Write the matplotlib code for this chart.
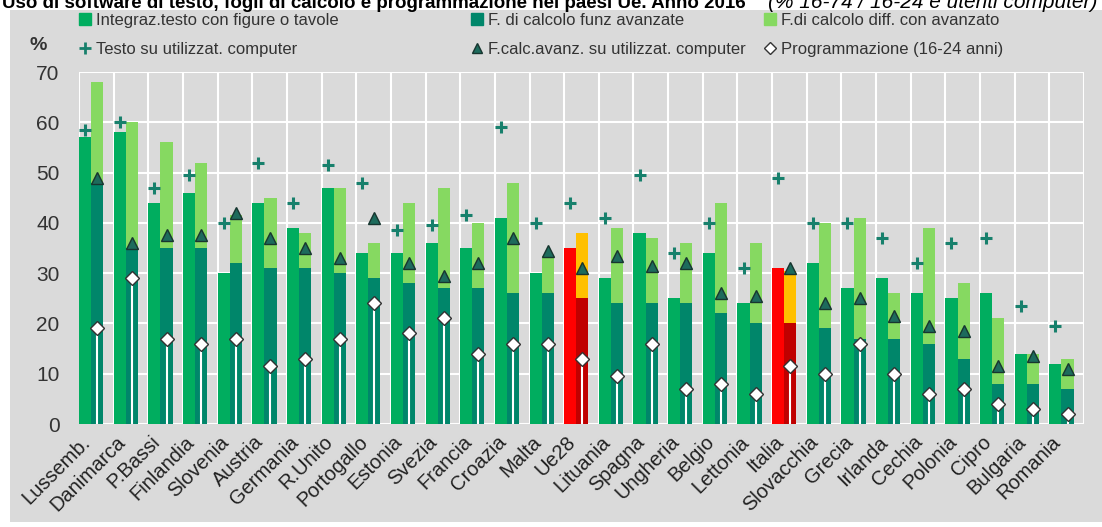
# Uso di software di testo, fogli di calcolo e programmazione nei paesi Ue - 2016
import numpy as np
import matplotlib
matplotlib.use('Agg')
import matplotlib.pyplot as plt
from matplotlib.patches import Rectangle
from matplotlib.lines import Line2D

plt.rcParams['font.family'] = ['Liberation Sans Narrow', 'Liberation Sans', 'DejaVu Sans']

# Data
countries = ['Lussemb.', 'Danimarca', 'P.Bassi', 'Finlandia', 'Slovenia', 'Austria', 'Germania',
             'R.Unito', 'Portogallo', 'Estonia', 'Svezia', 'Francia', 'Croazia', 'Malta', 'Ue28',
             'Lituania', 'Spagna', 'Ungheria', 'Belgio', 'Lettonia', 'Italia', 'Slovacchia',
             'Grecia', 'Irlanda', 'Cechia', 'Polonia', 'Cipro', 'Bulgaria', 'Romania']
integraz = [57, 58, 44, 46, 30, 44, 39, 47, 34, 34, 36, 35, 41, 30, 35, 29, 38, 25, 34, 24,
            31, 32, 27, 29, 26, 25, 26, 14, 12]
funz_avanz = [48, 35, 35, 35, 32, 31, 31, 30, 29, 28, 27, 27, 26, 26, 25, 24, 24, 24, 22, 20,
              20, 19, 17, 17, 16, 13, 8, 8, 7]
calcolo_tot = [68, 60, 56, 52, 41.5, 45, 38, 47, 36, 44, 47, 40, 48, 33.5, 38, 39, 37, 36, 44, 36,
               30.5, 40, 41, 26, 39, 28, 21, 14, 13]
testo_pc = [58.5, 60, 47, 49.5, 40, 52, 44, 51.5, 48, 38.5, 39.5, 41.5, 59, 40, 44, 41, 49.5, 34,
            40, 31, 49, 40, 40, 37, 32, 36, 37, 23.5, 19.5]
calc_pc = [49, 36, 37.5, 37.5, 42, 37, 35, 33, 41, 32, 29.5, 32, 37, 34.5, 31, 33.5, 31.5, 32, 26,
           25.5, 31, 24, 25, 21.5, 19.5, 18.5, 11.5, 13.5, 11]
programm = [19, 29, 17, 16, 17, 11.5, 13, 17, 24, 18, 21, 14, 16, 16, 13, 9.5, 16, 7, 8, 6, 11.5,
            10, 16, 10, 6, 7, 4, 3, 2]
highlight = ['Ue28', 'Italia']

# colours
bg = '#dadada'
c_left, c_dark, c_light = '#00ad5f', '#00866a', '#86d961'
c_red, c_dred, c_yel = '#ff0000', '#c00000', '#ffc000'
c_plus, c_tri = '#17806c', '#1d6b5c'

n = len(countries)
x = np.arange(n)
w = 0.35
diff = np.array(calcolo_tot) - np.array(funz_avanz)

col_left = [c_red if c in highlight else c_left for c in countries]
col_dark = [c_dred if c in highlight else c_dark for c in countries]
col_light = [c_yel if c in highlight else c_light for c in countries]

fig = plt.figure(figsize=(11.02, 5.27), dpi=100)
fig.patches.append(Rectangle((10/1102, 5/527), 1 - 10/1102, 1 - 15/527,
                             transform=fig.transFigure, facecolor=bg, edgecolor='none', zorder=-5))
ax = fig.add_axes([79/1102, 1 - 424/527, (1084 - 79)/1102, (424 - 72)/527])
ax.set_facecolor(bg)

b1 = ax.bar(x, integraz, w, align='edge', color=col_left, zorder=2)
b2 = ax.bar(x + w, funz_avanz, w, align='edge', color=col_dark, zorder=2)
b3 = ax.bar(x + w, diff, w, bottom=funz_avanz, align='edge', color=col_light, zorder=2)
ax.vlines(x + 1.5*w, 0, programm, color='white', lw=1.5, zorder=3)
ax.plot(x + w/2, testo_pc, '+', color=c_plus, ms=9, mew=2.2, zorder=4, ls='none')
ax.plot(x + 1.5*w, calc_pc, '^', color=c_tri, mec='#17352f', mew=1, ms=9, zorder=4, ls='none')
ax.plot(x + 1.5*w, programm, 'D', color='white', mec='#333333', mew=1, ms=7.5, zorder=5, ls='none')

ax.set_yticks(range(0, 71, 10))
ax.set_xticks(x + 0.05)
ax.set_xticklabels(countries, rotation=45, ha='right', rotation_mode='anchor', fontsize=14.5, color='#222222')
ax.set_xticks(np.arange(n + 1), minor=True)
ax.set_xlim(0, n)
ax.set_ylim(0, 70)
ax.tick_params(axis='both', which='both', length=0)
ax.tick_params(axis='y', labelsize=15, labelcolor='#333333', pad=14)
ax.tick_params(axis='x', pad=6)
ax.grid(axis='y', which='major', color='white', lw=1.5, zorder=1)
ax.grid(axis='x', which='minor', color='white', lw=1.5, zorder=1)
ax.grid(axis='x', which='major', visible=False)
ax.set_axisbelow(True)
for s in ax.spines.values():
    s.set_visible(False)

fig.text(38/1102, 1 - 45/527, '%', fontsize=14, fontweight='bold', color='#333333', ha='center', va='center')

# title, clipped at the top as in the original
fig.text(0.002, 1 - 8/527, 'Uso di software di testo, fogli di calcolo e programmazione nei paesi Ue. Anno 2016',
         fontsize=13.5, fontweight='bold', va='baseline', ha='left')
fig.text(0.996, 1 - 8/527, '(% 16-74 / 16-24 e utenti computer)',
         fontsize=15, fontstyle='italic', va='baseline', ha='right')

# legend: three columns of two entries
sq = lambda c: Line2D([], [], marker='s', color=c, ls='none', ms=8)
leg_cols = [
    ([sq(c_left), Line2D([], [], marker='+', color=c_plus, ls='none', ms=9, mew=2)],
     ['Integraz.testo con figure o tavole', 'Testo su utilizzat. computer'], 76),
    ([sq(c_dark), Line2D([], [], marker='^', color=c_tri, mec='#17352f', ls='none', ms=7)],
     ['F. di calcolo funz avanzate', 'F.calc.avanz. su utilizzat. computer'], 468),
    ([sq(c_light), Line2D([], [], marker='D', color='white', mec='#333333', ls='none', ms=6)],
     ['F.di calcolo diff. con avanzato', 'Programmazione (16-24 anni)'], 761),
]
for h, l, xp in leg_cols:
    fig.legend(h, l, loc='upper left', bbox_to_anchor=(xp/1102, 1 - 10/527), frameon=False,
               fontsize=12, handlelength=0.7, handletextpad=0.3, labelspacing=0.8,
               borderaxespad=0, borderpad=0.2, labelcolor='#333333')

fig.savefig('out.png', dpi=100, facecolor='white')
